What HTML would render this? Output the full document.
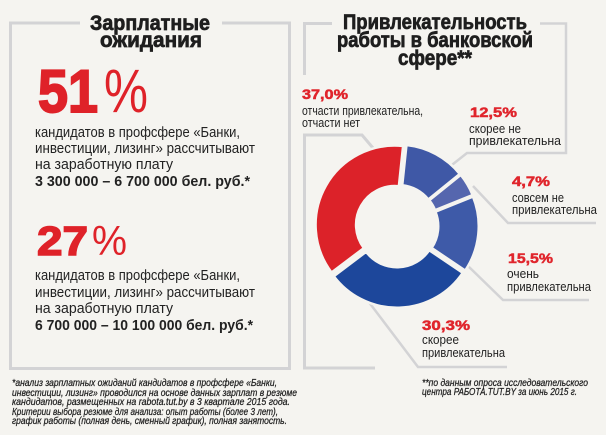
<!DOCTYPE html>
<html><head><meta charset="utf-8"><style>
html,body{margin:0;padding:0;background:#f5f4f0;}
svg{display:block;}
text{font-family:"Liberation Sans","Noto Sans CJK SC",sans-serif;}
</style></head><body>
<svg width="606" height="435" viewBox="0 0 606 435" xmlns="http://www.w3.org/2000/svg">
<rect width="606" height="435" fill="#f5f4f0"/>
<g fill="none" stroke="#d3d3d5" stroke-width="3">
<path d="M80 23 H10.5 V368.5 H289.5 V23 H222"/>
<path d="M332 23.5 H304.5 V75"/>
<path d="M373 148 L362 135 H304.5 V368 H375"/>
<path d="M540 23.5 H566 V153 H467 L443 172" stroke-width="2.5"/>
<path d="M596 223 H508 L473 186" stroke-width="2.5"/>
<path d="M589 300 H503 L467 265" stroke-width="2.5"/>
<path d="M507 367 H418 L365 297" stroke-width="2.5"/>
</g>
<g stroke="#f5f4f0" stroke-width="2.5">
<path transform="translate(1.19,-2.2)" fill="#3f58a6" d="M405.28 147.19 A79.25 79.25 0 0 1 458.59 176.13 L427.11 201.61 A38.75 38.75 0 0 0 401.05 187.46 Z"/>
<path transform="translate(2.15,-1.27)" fill="#5566ae" d="M458.59 176.13 A79.25 79.25 0 0 1 470.48 196.31 L432.93 211.48 A38.75 38.75 0 0 0 427.11 201.61 Z"/>
<path transform="translate(2.49,0.26)" fill="#3e5aa8" d="M470.48 196.31 A79.25 79.25 0 0 1 462.70 270.32 L429.12 247.67 A38.75 38.75 0 0 0 432.93 211.48 Z"/>
<path transform="translate(0.07,2.5)" fill="#1d479b" d="M462.70 270.32 A79.25 79.25 0 0 1 333.71 273.69 L366.05 249.32 A38.75 38.75 0 0 0 429.12 247.67 Z"/>
<path transform="translate(-2.18,-1.23)" fill="#dc2229" d="M333.71 273.69 A79.25 79.25 0 0 1 405.28 147.19 L401.05 187.46 A38.75 38.75 0 0 0 366.05 249.32 Z"/>
</g>

<g fill="#1e1e1e" stroke="#1e1e1e" stroke-width="0.7" font-weight="bold" font-size="21" text-anchor="middle">
<text x="150" y="30" textLength="120" lengthAdjust="spacingAndGlyphs">Зарплатные</text>
<text x="151" y="47" textLength="102" lengthAdjust="spacingAndGlyphs">ожидания</text>
<text x="435" y="29" textLength="184" lengthAdjust="spacingAndGlyphs">Привлекательность</text>
<text x="435" y="47" textLength="196" lengthAdjust="spacingAndGlyphs">работы в банковской</text>
<text x="435" y="65" textLength="74" lengthAdjust="spacingAndGlyphs">сфере**</text>
</g>

<g fill="#df2229">
<text x="38" y="112" font-size="60" font-weight="bold" stroke="#df2229" stroke-width="2" textLength="60" lengthAdjust="spacingAndGlyphs">51</text>
<text x="104" y="112" font-size="61" textLength="44" lengthAdjust="spacingAndGlyphs">%</text>
<text x="37" y="255" font-size="41" font-weight="bold" stroke="#df2229" stroke-width="1.5" textLength="51" lengthAdjust="spacingAndGlyphs">27</text>
<text x="92" y="255" font-size="42" textLength="35" lengthAdjust="spacingAndGlyphs">%</text>
</g>

<g fill="#222" font-size="15">
<text x="35" y="137" textLength="205" lengthAdjust="spacingAndGlyphs">кандидатов в профсфере «Банки,</text>
<text x="35" y="153" textLength="220" lengthAdjust="spacingAndGlyphs">инвестиции, лизинг» рассчитывают</text>
<text x="35" y="169" textLength="138" lengthAdjust="spacingAndGlyphs">на заработную плату</text>
<text x="35" y="186" font-weight="bold" textLength="215" lengthAdjust="spacingAndGlyphs">3 300 000 – 6 700 000 бел. руб.*</text>
<text x="35" y="280" textLength="205" lengthAdjust="spacingAndGlyphs">кандидатов в профсфере «Банки,</text>
<text x="35" y="297" textLength="220" lengthAdjust="spacingAndGlyphs">инвестиции, лизинг» рассчитывают</text>
<text x="35" y="313" textLength="138" lengthAdjust="spacingAndGlyphs">на заработную плату</text>
<text x="35" y="330" font-weight="bold" textLength="218" lengthAdjust="spacingAndGlyphs">6 700 000 – 10 100 000 бел. руб.*</text>
</g>

<g fill="#222" stroke="#222" stroke-width="0.25" font-size="10" font-style="italic">
<text x="12" y="386" textLength="265" lengthAdjust="spacingAndGlyphs">*анализ зарплатных ожиданий кандидатов в профсфере «Банки,</text>
<text x="12" y="396" textLength="285" lengthAdjust="spacingAndGlyphs">инвестиции, лизинг» проводился на основе данных зарплат в резюме</text>
<text x="12" y="405" textLength="278" lengthAdjust="spacingAndGlyphs">кандидатов, размещенных  на rabota.tut.by в 3 квартале 2015 года.</text>
<text x="12" y="415" textLength="266" lengthAdjust="spacingAndGlyphs">Критерии выбора резюме для анализа: опыт работы (более 3 лет),</text>
<text x="12" y="424" textLength="275" lengthAdjust="spacingAndGlyphs">график работы (полная день, сменный график), полная занятость.</text>
<text x="422" y="386" textLength="166" lengthAdjust="spacingAndGlyphs">**по данным опроса исследовательского</text>
<text x="422" y="395" textLength="155" lengthAdjust="spacingAndGlyphs">центра РАБОТА.TUT.BY за июнь 2015 г.</text>
</g>

<g fill="#e0252c" stroke="#e0252c" stroke-width="0.5" font-size="14" font-weight="bold">
<text x="302" y="99" textLength="46" lengthAdjust="spacingAndGlyphs">37,0%</text>
<text x="470" y="117" textLength="47" lengthAdjust="spacingAndGlyphs">12,5%</text>
<text x="512" y="186" textLength="38" lengthAdjust="spacingAndGlyphs">4,7%</text>
<text x="508" y="263" textLength="45" lengthAdjust="spacingAndGlyphs">15,5%</text>
<text x="422" y="330" textLength="48" lengthAdjust="spacingAndGlyphs">30,3%</text>
</g>

<g fill="#222" font-size="12.5">
<text x="302" y="115" textLength="121" lengthAdjust="spacingAndGlyphs">отчасти привлекательна,</text>
<text x="302" y="127" textLength="58" lengthAdjust="spacingAndGlyphs">отчасти нет</text>
<text x="469" y="133" textLength="52" lengthAdjust="spacingAndGlyphs">скорее не</text>
<text x="469" y="145" textLength="92" lengthAdjust="spacingAndGlyphs">привлекательна</text>
<text x="512" y="202" textLength="52" lengthAdjust="spacingAndGlyphs">совсем не</text>
<text x="512" y="214" textLength="85" lengthAdjust="spacingAndGlyphs">привлекательна</text>
<text x="507" y="278" textLength="32" lengthAdjust="spacingAndGlyphs">очень</text>
<text x="507" y="291" textLength="84" lengthAdjust="spacingAndGlyphs">привлекательна</text>
<text x="422" y="344" textLength="37" lengthAdjust="spacingAndGlyphs">скорее</text>
<text x="422" y="357" textLength="83" lengthAdjust="spacingAndGlyphs">привлекательна</text>
</g>
</svg>
</body></html>
